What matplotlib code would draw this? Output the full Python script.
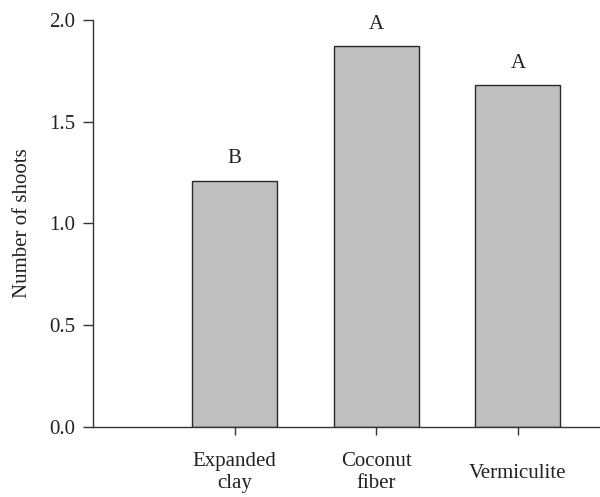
import matplotlib.pyplot as plt
from matplotlib.transforms import ScaledTranslation

substrates = ['Expanded\nclay', 'Coconut\nfiber', 'Vermiculite']
shoots = [1.21, 1.87, 1.68]
letters = ['B', 'A', 'A']
positions = [1, 2, 3]

plt.rcParams['font.family'] = ['Liberation Serif', 'DejaVu Serif']

fig = plt.figure(figsize=(6, 4.97), dpi=100)
ax = fig.add_axes([0.155, 0.141, 0.845, 0.819])

bars = ax.bar(positions, shoots, width=0.6, color='#c0c0c0',
              edgecolor='#2a2a2a', linewidth=1.0)

# significance letters above bars
for b, let in zip(bars, letters):
    ax.annotate(let, (b.get_x() + b.get_width() / 2, b.get_height()),
                xytext=(0, 9), textcoords='offset points',
                ha='center', va='bottom', fontsize=15, color='#222222')

ax.set_xlim(0, 3.58)
ax.set_ylim(0, 2.0)
ax.set_yticks([0.0, 0.5, 1.0, 1.5, 2.0])
ax.set_yticklabels(['0.0', '0.5', '1.0', '1.5', '2.0'])
ax.set_xticks(positions)
ax.set_xticklabels(substrates, linespacing=1.25)

ax.spines['top'].set_visible(False)
ax.spines['right'].set_visible(False)
for s in ['left', 'bottom']:
    ax.spines[s].set_color('#333333')
    ax.spines[s].set_linewidth(1.0)

ax.tick_params(axis='y', direction='out', length=7, width=1, pad=6,
               labelsize=15, colors='#333333', labelcolor='#222222')
ax.tick_params(axis='x', direction='out', length=6, width=1, pad=12,
               labelsize=15, colors='#333333', labelcolor='#222222')

# single-line label sits halfway down the two-line ones
lbl = ax.get_xticklabels()[2]
lbl.set_transform(lbl.get_transform() + ScaledTranslation(0, -0.12, fig.dpi_scale_trans))

ax.set_ylabel('Number of shoots', fontsize=15, color='#222222', labelpad=12)

fig.savefig('out.png', dpi=100)
